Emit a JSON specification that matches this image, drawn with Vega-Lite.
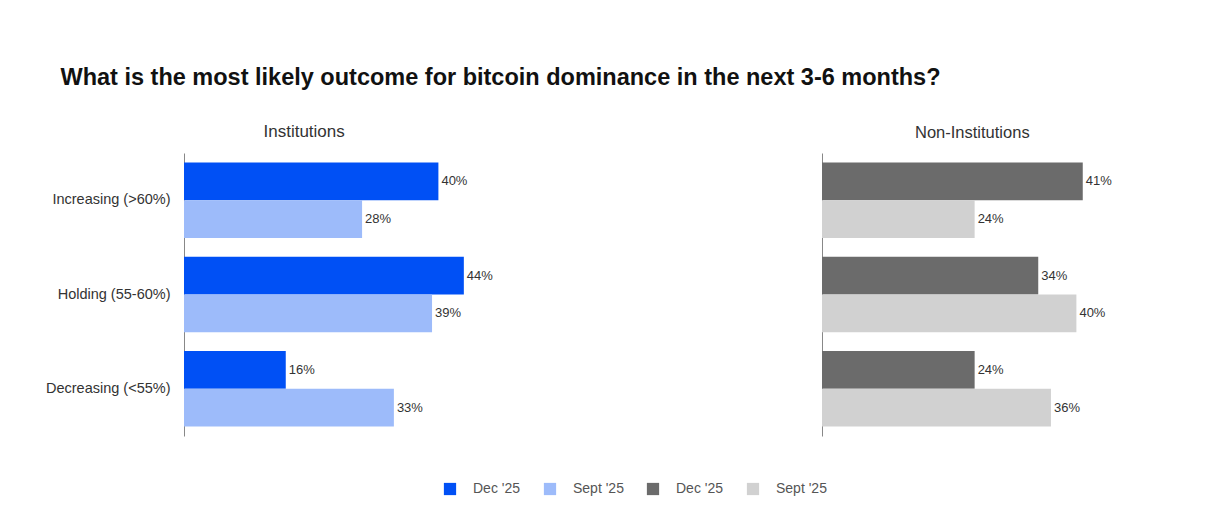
{
  "$schema": "https://vega.github.io/schema/vega-lite/v6.json",
  "background": "white",
  "padding": {"left": 45, "top": 65, "right": 20, "bottom": 10},
  "title": {"text": "What is the most likely outcome for bitcoin dominance in the next 3-6 months?", "anchor": "start", "fontSize": 23.5, "font": "Liberation Sans", "fontWeight": "bold", "color": "#111111", "dx": 15, "offset": 34},
  "config": {"view": {"stroke": null}, "font": "Liberation Sans", "concat": {"spacing": 320}},
  "data": {"values": [
    {"group": "Institutions", "outcome": "Increasing (>60%)", "period": "Dec '25", "key": "I-Dec", "value": 40},
    {"group": "Institutions", "outcome": "Increasing (>60%)", "period": "Sept '25", "key": "I-Sept", "value": 28},
    {"group": "Institutions", "outcome": "Holding (55-60%)", "period": "Dec '25", "key": "I-Dec", "value": 44},
    {"group": "Institutions", "outcome": "Holding (55-60%)", "period": "Sept '25", "key": "I-Sept", "value": 39},
    {"group": "Institutions", "outcome": "Decreasing (<55%)", "period": "Dec '25", "key": "I-Dec", "value": 16},
    {"group": "Institutions", "outcome": "Decreasing (<55%)", "period": "Sept '25", "key": "I-Sept", "value": 33},
    {"group": "Non-Institutions", "outcome": "Increasing (>60%)", "period": "Dec '25", "key": "N-Dec", "value": 41},
    {"group": "Non-Institutions", "outcome": "Increasing (>60%)", "period": "Sept '25", "key": "N-Sept", "value": 24},
    {"group": "Non-Institutions", "outcome": "Holding (55-60%)", "period": "Dec '25", "key": "N-Dec", "value": 34},
    {"group": "Non-Institutions", "outcome": "Holding (55-60%)", "period": "Sept '25", "key": "N-Sept", "value": 40},
    {"group": "Non-Institutions", "outcome": "Decreasing (<55%)", "period": "Dec '25", "key": "N-Dec", "value": 24},
    {"group": "Non-Institutions", "outcome": "Decreasing (<55%)", "period": "Sept '25", "key": "N-Sept", "value": 36}
  ]},
  "transform": [{"calculate": "datum.value + '%'", "as": "label"}],
  "hconcat": [
    {
      "width": 318, "height": 283,
      "title": {"text": "Institutions", "anchor": "start", "dx": 218, "fontSize": 17, "fontWeight": "normal", "color": "#333333", "offset": 12},
      "transform": [{"filter": "datum.group === 'Institutions'"}],
      "encoding": {
        "y": {"field": "outcome", "type": "nominal", "sort": ["Increasing (>60%)", "Holding (55-60%)", "Decreasing (<55%)"], "scale": {"paddingInner": 0.2, "paddingOuter": 0.1}, "axis": {"title": null, "ticks": false, "labelFontSize": 14.5, "labelColor": "#333333", "labelPadding": 14, "domainColor": "#888888"}},
        "yOffset": {"field": "period", "type": "nominal", "sort": ["Dec '25", "Sept '25"]},
        "x": {"field": "value", "type": "quantitative", "scale": {"domain": [0, 50]}, "axis": null}
      },
      "layer": [
        {"mark": {"type": "bar"}, "encoding": {"color": {"field": "key", "type": "nominal", "scale": {"domain": ["I-Dec", "I-Sept", "N-Dec", "N-Sept"], "range": ["#0050f5", "#9dbbfa", "#6b6b6b", "#d1d1d1"]}, "legend": {"title": null, "orient": "none", "legendX": 259, "legendY": 329, "direction": "horizontal", "symbolType": "square", "symbolSize": 150, "symbolStrokeWidth": 0, "labelFontSize": 14, "labelColor": "#555555", "labelOffset": 16, "columnPadding": 22, "labelExpr": "(datum.label == 'I-Dec' || datum.label == 'N-Dec') ? \"Dec '25\" : \"Sept '25\""}}}},
        {"mark": {"type": "text", "align": "left", "dx": 3, "fontSize": 13, "color": "#333333"}, "encoding": {"text": {"field": "label"}}}
      ]
    },
    {
      "width": 318, "height": 283,
      "title": {"text": "Non-Institutions", "anchor": "start", "dx": 93, "fontSize": 16.5, "fontWeight": "normal", "color": "#333333", "offset": 12},
      "transform": [{"filter": "datum.group === 'Non-Institutions'"}],
      "encoding": {
        "y": {"field": "outcome", "type": "nominal", "sort": ["Increasing (>60%)", "Holding (55-60%)", "Decreasing (<55%)"], "scale": {"paddingInner": 0.2, "paddingOuter": 0.1}, "axis": {"title": null, "ticks": false, "labels": false, "domainColor": "#888888"}},
        "yOffset": {"field": "period", "type": "nominal", "sort": ["Dec '25", "Sept '25"]},
        "x": {"field": "value", "type": "quantitative", "scale": {"domain": [0, 50]}, "axis": null}
      },
      "layer": [
        {"mark": {"type": "bar"}, "encoding": {"color": {"field": "key", "type": "nominal"}}},
        {"mark": {"type": "text", "align": "left", "dx": 3, "fontSize": 13, "color": "#333333"}, "encoding": {"text": {"field": "label"}}}
      ]
    }
  ]
}
